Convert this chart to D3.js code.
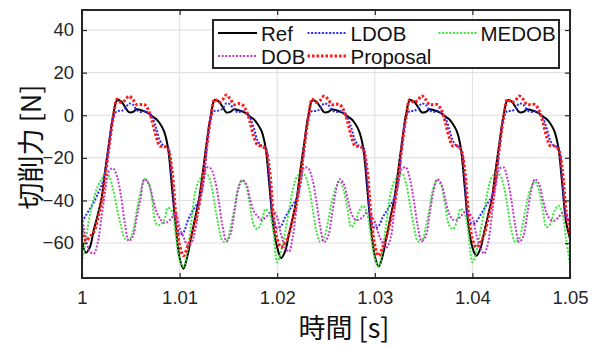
<!DOCTYPE html>
<html>
<head>
<meta charset="utf-8">
<script src="https://cdn.jsdelivr.net/npm/d3@7"></script>
<style>
  body { margin: 0; background: #fff; }
  svg { display: block; }
  .tick text { font-family: "Liberation Sans", Arial, sans-serif; font-size: 18.5px; fill: #262626; }
  .lab { font-family: "Noto Sans CJK JP", "Noto Sans", sans-serif; font-size: 27px; fill: #111; }
  .leg { font-family: "Liberation Sans", Arial, sans-serif; font-size: 20.5px; fill: #111; }
</style>
</head>
<body>
<svg id="chart" width="603" height="347"></svg>
<script>
// series names in legend order (3 columns, row-major)
const seriesNames = ['Ref', 'LDOB', 'MEDOB', 'DOB', 'Proposal'];
const xTicks = [1, 1.01, 1.02, 1.03, 1.04, 1.05];
const yTicks = [-60, -40, -20, 0, 20, 40];

const refForce = [
  -59, -64.5, -62, -54, -47, -39, -25, -12, 0, 7, 6.5, 4, 1.5, 1.5, 2.8, 2.5, 1.8, 1, -0.5, -1.8, -4, -7.5, -15, -33, -52,
  -67, -72, -66, -57, -48, -39, -26, -12, 0, 7.2, 6.5, 4, 1.3, 1.6, 2.8, 2.4, 1.8, 1, -0.6, -1.9, -4.2, -7.5, -15, -33, -52,
  -62, -67, -64, -56, -48, -39, -25, -12, 0, 7, 6.4, 4, 1.5, 1.5, 2.7, 2.5, 1.7, 0.9, -0.5, -1.8, -4, -7.6, -15, -33, -53,
  -66, -71, -66, -57, -48, -39, -26, -12, 0.2, 7.1, 6.5, 4.1, 1.4, 1.5, 2.8, 2.5, 1.8, 1, -0.5, -1.8, -4.1, -7.5, -15, -33, -52,
  -62, -66, -63, -55, -47, -39, -25, -12, 0, 7, 6.5, 4, 1.5, 1.5, 2.8, 2.5, 1.8, 1, -0.5, -1.8, -4, -7.5, -15, -32, -50,
  -58
];
const ldobForce = [
  -50, -47, -44, -41, -37, -33, -26, -13, -1, 2, 2, 3, 5.5, 5, 2.5, 1.5, 2, 1, -1, -6, -12, -14.5, -15, -30, -49,
  -56, -55, -50, -46, -43, -40, -33, -15, -1, 2, 2.2, 3, 5.6, 5, 2.5, 1.4, 2, 1, -1, -6, -12, -14.3, -15, -30, -49,
  -53, -52, -48, -45, -42, -39, -32, -14, -1, 2, 2, 3, 5.5, 5, 2.6, 1.5, 2, 1, -1.2, -6, -12, -14.5, -15, -30, -49,
  -53, -52, -48, -45, -42, -39, -32, -14, -1, 2, 2, 3.1, 5.5, 5, 2.5, 1.5, 2.1, 1, -1, -6, -12, -14.5, -15.2, -30, -49,
  -51, -50, -47, -44, -41, -38, -31, -14, -1, 2, 2, 3, 5.5, 5, 2.5, 1.5, 2, 1, -1, -6, -12, -14.5, -15, -30, -47,
  -50
];
const medobForce = [
  -69, -58, -47, -39, -33.5, -30, -27, -29, -35, -44, -52, -58, -58.5, -55, -45, -36, -30, -31.5, -40, -51, -51.5, -49.5, -43.5, -45, -56,
  -68, -71, -64, -50, -36, -30.5, -28.5, -27.5, -32, -42, -52, -59, -59.5, -53, -44, -34, -30.5, -33, -42, -51.5, -53.5, -50, -44, -46, -54.5,
  -69, -64, -55, -45, -35, -29, -27.5, -28, -33, -43, -54, -59.5, -57.5, -50, -40.5, -34, -31, -35, -44, -52.5, -50, -45, -42.5, -46, -57,
  -67, -71, -63, -50, -37, -31, -28.5, -27.5, -32, -42, -52, -59, -59.5, -53, -44, -34, -30.5, -33, -42, -51.5, -53.5, -50, -44, -46, -56,
  -69, -64, -55, -45, -35, -29, -27.5, -28, -33, -43, -54, -59.5, -58, -50, -40.5, -34, -31, -35, -44, -52.5, -51, -45, -42.5, -46, -58,
  -70
];
const dobForce = [
  -48, -58, -64, -65, -60, -48, -35, -26, -25, -29, -38, -51, -59, -57, -48, -39, -30, -32, -38, -45, -48.5, -50.5, -50, -48, -46,
  -53, -57, -61, -60, -54, -42, -31, -24.5, -25, -30, -40, -52, -59, -56, -46, -35, -30.5, -32, -39, -45, -47.5, -49, -48, -46, -45,
  -48, -56, -62, -64, -57, -43, -31, -24.5, -25, -30, -40, -52, -59.5, -57, -47, -36, -30, -32, -39, -46, -49, -49, -47.5, -45.5, -47,
  -50, -56, -60, -62, -58, -45, -32, -25, -24.5, -30, -40, -52, -59, -57, -47, -36, -30, -32, -39, -46, -49, -49, -47.5, -45.5, -46,
  -48, -56, -62, -65, -60, -47, -33, -25, -24.5, -30, -40, -52, -59.5, -57, -47, -36, -30, -32, -39, -46, -49, -49.5, -48, -46, -48,
  -50
];
const proposalForce = [
  -54, -59, -57, -55, -49, -41, -28, -14, -1, 7.5, 6, 7, 9, 7.5, 5, 5, 5, 2.5, -3, -10, -14.5, -14.5, -16, -25, -46,
  -61, -66, -62, -57, -50, -42, -29, -14, -1, 7.5, 6, 7.2, 9.5, 7.5, 5, 5.5, 5, 2.5, -3, -10, -14, -14.5, -16, -25, -46,
  -58, -62, -60, -56, -49, -41, -28, -14, -1, 7.5, 6, 7, 9, 7.6, 5, 5.2, 5, 2.5, -3, -10, -14.5, -14.5, -16, -25, -46,
  -61, -66, -62, -57, -50, -42, -29, -14, -1, 7.4, 6, 7, 9.2, 7.5, 5, 5, 5, 2.6, -3, -10, -14.5, -14.3, -16, -25, -46,
  -58, -62, -60, -56, -49, -41, -28, -14, -1, 7.5, 6, 7, 9, 7.5, 5, 5, 5, 2.5, -3, -10, -14.5, -14.5, -16, -25, -45,
  -56
];
const time = d3.range(refForce.length).map(i => 1 + i * 0.0004);

const width = 603, height = 347;
const margin = {left: 82, right: 33, top: 10, bottom: 69};
const svg = d3.select('#chart');
const iw = width - margin.left - margin.right, ih = height - margin.top - margin.bottom;

const x = d3.scaleLinear().domain([1, 1.05]).range([0, iw]);
const y = d3.scaleLinear().domain([-76.4, 49.4]).range([ih, 0]);

const g = svg.append('g').attr('transform', `translate(${margin.left},${margin.top})`);

// grid
g.append('g').selectAll('line').data(xTicks.slice(1, -1)).join('line')
  .attr('x1', d => x(d)).attr('x2', d => x(d)).attr('y1', 0).attr('y2', ih)
  .attr('stroke', '#dedede').attr('stroke-width', 1);
g.append('g').selectAll('line').data(yTicks).join('line')
  .attr('y1', d => y(d)).attr('y2', d => y(d)).attr('x1', 0).attr('x2', iw)
  .attr('stroke', '#dedede').attr('stroke-width', 1);

g.append('clipPath').attr('id', 'clip').append('rect').attr('width', iw).attr('height', ih);

const styles = {
  Ref: {data: refForce, color: '#000000', w: 2, dash: null},
  LDOB: {data: ldobForce, color: '#2b2bff', w: 2, dash: '2,1.6'},
  MEDOB: {data: medobForce, color: '#3ce63c', w: 2, dash: '2,1.6'},
  DOB: {data: dobForce, color: '#c03cc8', w: 2, dash: '2,1.6'},
  Proposal: {data: proposalForce, color: '#ff1a1a', w: 3, dash: '2.5,2'}
};

const line = d3.line().x(d => x(d[0])).y(d => y(d[1])).curve(d3.curveCatmullRom.alpha(0.5));
const lines = g.append('g').attr('clip-path', 'url(#clip)');
seriesNames.forEach(name => {
  const s = styles[name];
  lines.append('path')
    .datum(time.map((t, i) => [t, s.data[i]]))
    .attr('d', line)
    .attr('fill', 'none')
    .attr('stroke', s.color)
    .attr('stroke-width', s.w)
    .attr('stroke-dasharray', s.dash);
});

// axes (ticks inward, box)
const xa = g.append('g').attr('transform', `translate(0,${ih})`)
  .call(d3.axisBottom(x).tickValues(xTicks).tickFormat(d3.format('')).tickSize(-5).tickPadding(13));
const ya = g.append('g')
  .call(d3.axisLeft(y).tickValues(yTicks).tickSize(-5).tickPadding(8));
g.append('g').call(d3.axisTop(x).tickValues(xTicks).tickSize(-5).tickFormat(''));
g.append('g').attr('transform', `translate(${iw},0)`).call(d3.axisRight(y).tickValues(yTicks).tickSize(-5).tickFormat(''));
g.selectAll('.domain').remove();
g.selectAll('.tick line').attr('stroke', '#262626').attr('stroke-width', 1.2);
xa.selectAll('text').attr('font-size', null);
ya.selectAll('text').attr('font-size', null);
g.selectAll('.tick text').attr('font-family', null);
g.append('rect').attr('width', iw).attr('height', ih)
  .attr('fill', 'none').attr('stroke', '#262626').attr('stroke-width', 2);

// axis labels
svg.append('text').attr('class', 'lab')
  .attr('x', 344).attr('y', 338).attr('text-anchor', 'middle').text('時間 [s]');
svg.append('text').attr('class', 'lab')
  .attr('transform', 'translate(29,147) rotate(-90)')
  .attr('text-anchor', 'middle').attr('dominant-baseline', 'central').text('切削力 [N]');

// legend
const leg = svg.append('g');
leg.append('rect').attr('x', 213).attr('y', 20).attr('width', 346).attr('height', 48)
  .attr('fill', '#fff').attr('stroke', '#262626').attr('stroke-width', 2);
const colX = [218, 307.5, 438.5], rowY = [33, 56];
seriesNames.forEach((name, i) => {
  const s = styles[name];
  const cx = colX[i % 3], cy = rowY[Math.floor(i / 3)];
  leg.append('line').attr('x1', cx).attr('x2', cx + 39).attr('y1', cy).attr('y2', cy)
    .attr('stroke', s.color).attr('stroke-width', s.w).attr('stroke-dasharray', s.dash);
  leg.append('text').attr('class', 'leg').attr('x', cx + (i % 3 === 2 ? 42 : 43)).attr('y', cy)
    .attr('dominant-baseline', 'central').text(name);
});
</script>
</body>
</html>
